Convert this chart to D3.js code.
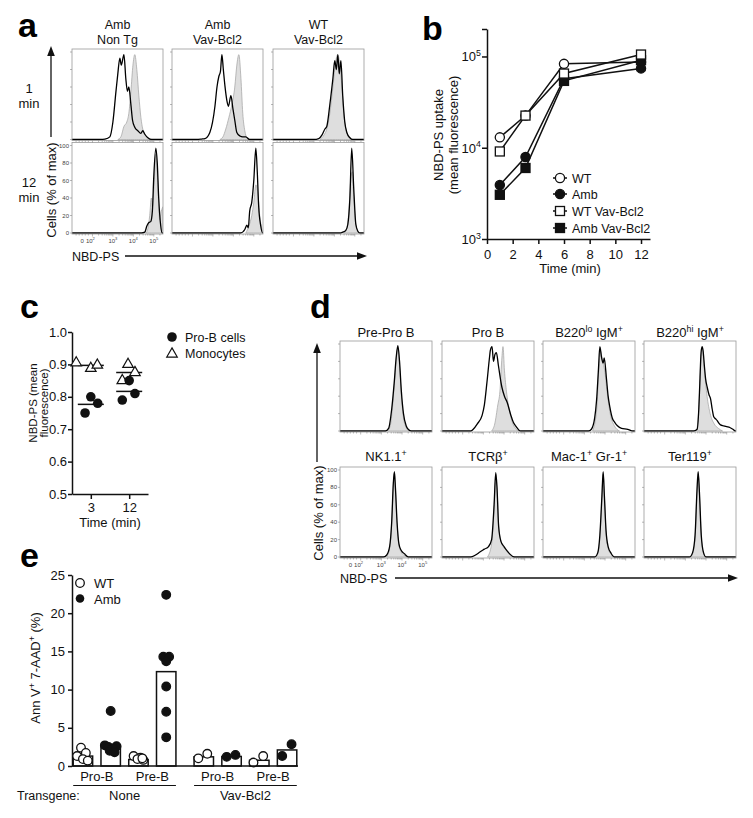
<!DOCTYPE html>
<html><head><meta charset="utf-8">
<script src="https://cdn.jsdelivr.net/npm/d3@7/dist/d3.min.js"></script>
<style>html,body{margin:0;padding:0;background:#fff;} svg{display:block;font-family:"Liberation Sans",Arial,Helvetica,sans-serif;}</style>
</head><body>
<svg id="fig" width="753" height="818"></svg>
<script>
// ================= DATA =================
// --- panel a: histograms, points are [decade position on NBD-PS axis, % of max]
const aColTitles = [["Amb","Non Tg"],["Amb","Vav-Bcl2"],["WT","Vav-Bcl2"]];
const aRowLabels = [["1","min"],["12","min"]];
const aLine1min = [
 [[2.4,0],[2.61,0.5],[2.85,3],[3.0,20],[3.15,55],[3.24,75],[3.34,93],[3.41,85],[3.54,97],[3.63,70],[3.71,55],[3.78,60],[3.88,40],[3.96,22],[4.07,14],[4.22,10],[4.37,7],[4.46,10],[4.56,6],[4.71,2],[4.9,0]],
 [[2.2,0],[2.45,0.5],[2.61,1],[2.85,8],[3.1,38],[3.2,60],[3.29,72],[3.37,78],[3.44,97],[3.51,80],[3.59,61],[3.68,45],[3.76,38],[3.88,50],[3.98,35],[4.07,22],[4.17,8],[4.32,4],[4.46,3],[4.61,3],[4.8,0]],
 [[3.0,0],[3.24,1],[3.39,5],[3.54,12],[3.63,15],[3.78,40],[3.93,70],[4.02,90],[4.1,80],[4.17,97],[4.24,75],[4.32,90],[4.41,50],[4.51,20],[4.61,8],[4.76,2],[4.9,0]]
];
const aFill1min = [
 [[3.24,0],[3.39,3],[3.54,15],[3.68,20],[3.78,30],[3.88,55],[3.98,85],[4.07,97],[4.17,80],[4.27,50],[4.37,25],[4.46,12],[4.61,5],[4.8,0]],
 [[3.34,0],[3.49,3],[3.63,12],[3.78,25],[3.93,40],[4.07,60],[4.17,85],[4.27,97],[4.37,70],[4.46,30],[4.56,10],[4.66,2],[4.76,0]],
 [[3.29,0],[3.49,5],[3.63,12],[3.78,30],[3.93,60],[4.07,90],[4.17,97],[4.27,85],[4.37,60],[4.46,30],[4.56,12],[4.71,3],[4.85,0]]
];
const aLine12min = [
 [[4.4,0],[4.56,1],[4.66,8],[4.76,12],[4.85,13],[4.93,25],[5.0,65],[5.1,97],[5.17,80],[5.24,40],[5.34,8],[5.41,0]],
 [[4.35,0],[4.56,4],[4.66,9],[4.73,6],[4.8,25],[4.9,35],[5.0,60],[5.1,97],[5.17,70],[5.24,30],[5.34,8],[5.44,0]],
 [[4.3,0],[4.41,1],[4.56,3],[4.66,10],[4.76,40],[4.85,97],[4.95,50],[5.05,10],[5.15,2],[5.24,0]]
];
const aFill12min = [
 [[4.61,0],[4.71,5],[4.8,20],[4.88,40],[4.93,30],[5.0,50],[5.1,90],[5.2,55],[5.29,15],[5.37,25],[5.45,30]],
 [[4.61,0],[4.76,8],[4.9,20],[5.0,35],[5.1,55],[5.2,45],[5.29,20],[5.39,5],[5.44,0]],
 [[4.46,0],[4.61,5],[4.71,25],[4.8,60],[4.88,70],[4.95,40],[5.05,10],[5.2,0]]
];
const histTickPos = [1.5, 1.9, 3, 4, 5];
const histTickBase = ["0","10","10","10","10"];
const histTickExp = ["","2","3","4","5"];
const histYTicks = [0,20,40,60,80,100];

// --- panel b
const bTimes = [1,3,6,12];
const bSeries = ["WT","Amb","WT Vav-Bcl2","Amb Vav-Bcl2"];
const bWT = [13000, 22500, 83000, 87000];
const bAmb = [3900, 7900, 57000, 74000];
const bWTBcl2 = [9100, 22500, 65000, 105000];
const bAmbBcl2 = [3050, 6000, 54000, 91000];
const bXTicks = [0,2,4,6,8,10,12];
const bYTicks = [1e3,1e4,1e5];
const bYExp = ["3","4","5"];

// --- panel c
const cTimes = ["3","12"];
const cProB = [[0.75,0.80,0.78],[0.79,0.85,0.81]];
const cMono = [[0.905,0.888,0.898],[0.85,0.90,0.875]];
const cProBJitter = [[-0.15,0,0.18],[-0.18,0,0.15]];
const cMonoJitter = [[-0.38,0,0.17],[-0.18,-0.03,0.15]];
const cYTicks = [0.5,0.6,0.7,0.8,0.9,1.0];

// --- panel d
const dTitles = [
 [["Pre-Pro B",0]], [["Pro B",0]], [["B220",0],["lo",1],[" IgM",0],["+",1]], [["B220",0],["hi",1],[" IgM",0],["+",1]],
 [["NK1.1",0],["+",1]], [["TCRβ",0],["+",1]], [["Mac-1",0],["+",1],[" Gr-1",0],["+",1]], [["Ter119",0],["+",1]]
];
const dLine = [
 [[3.2,0],[3.35,3],[3.5,25],[3.62,55],[3.72,85],[3.8,98],[3.88,80],[3.97,45],[4.07,20],[4.2,6],[4.3,2],[4.45,0]],
 [[2.4,0],[2.51,2],[2.7,8],[2.94,18],[3.05,30],[3.17,55],[3.3,85],[3.34,93],[3.42,97],[3.49,80],[3.56,88],[3.63,90],[3.73,75],[3.9,50],[4.02,40],[4.15,33],[4.32,19],[4.45,10],[4.56,6],[4.8,0]],
 [[3.2,0],[3.34,2],[3.5,15],[3.59,35],[3.68,70],[3.75,97],[3.83,85],[3.91,78],[3.96,84],[4.07,60],[4.15,40],[4.23,28],[4.35,15],[4.47,10],[4.6,6],[4.8,3],[5.1,2],[5.35,0]],
 [[3.4,0],[3.57,2],[3.65,25],[3.7,55],[3.76,90],[3.81,97],[3.86,92],[3.92,75],[3.98,60],[4.06,50],[4.14,42],[4.22,37],[4.3,25],[4.38,16],[4.46,14],[4.54,12],[4.62,9],[4.7,7],[4.85,6],[5.0,5],[5.15,4],[5.3,2],[5.42,0]],
 [[3.1,0],[3.25,2],[3.4,12],[3.5,40],[3.58,85],[3.63,98],[3.68,80],[3.76,40],[3.85,15],[3.95,8],[4.05,5],[4.15,3],[4.3,0]],
 [[2.4,0],[2.6,2],[2.85,6],[3.05,9],[3.25,12],[3.4,20],[3.52,60],[3.6,97],[3.66,80],[3.74,35],[3.85,18],[4.0,12],[4.15,7],[4.3,3],[4.5,0]],
 [[3.5,0],[3.65,5],[3.75,25],[3.85,70],[3.91,98],[3.97,70],[4.05,30],[4.15,12],[4.3,4],[4.45,0]],
 [[3.2,0],[3.35,5],[3.47,25],[3.56,75],[3.62,98],[3.68,75],[3.77,25],[3.88,5],[4.0,0]]
];
const dFill = [
 [[3.3,0],[3.45,8],[3.55,30],[3.65,60],[3.75,90],[3.8,95],[3.88,75],[3.97,40],[4.07,15],[4.2,4],[4.35,0]],
 [[3.4,0],[3.55,8],[3.7,30],[3.8,45],[3.9,85],[3.95,97],[4.02,70],[4.12,45],[4.25,25],[4.4,10],[4.55,3],[4.7,0]],
 [[3.4,0],[3.6,25],[3.7,70],[3.78,92],[3.88,80],[3.98,70],[4.1,45],[4.25,20],[4.45,6],[4.7,0]],
 [[3.55,0],[3.65,25],[3.75,80],[3.82,95],[3.92,70],[4.05,40],[4.2,20],[4.4,8],[4.6,3],[4.8,0]],
 [[3.25,0],[3.4,10],[3.5,38],[3.58,83],[3.63,96],[3.68,78],[3.76,38],[3.85,14],[3.95,6],[4.1,2],[4.25,0]],
 [[3.2,0],[3.4,15],[3.52,55],[3.6,95],[3.66,78],[3.75,33],[3.9,15],[4.1,8],[4.3,2],[4.5,0]],
 [[3.55,0],[3.67,5],[3.76,25],[3.85,68],[3.91,96],[3.97,68],[4.05,28],[4.15,10],[4.3,3],[4.45,0]],
 [[3.25,0],[3.37,5],[3.48,25],[3.56,73],[3.62,96],[3.68,73],[3.77,23],[3.88,4],[4.0,0]]
];

// --- panel e
const eGroups = ["None","Vav-Bcl2"];
const eSubs = ["WT Pro-B","Amb Pro-B","WT Pre-B","Amb Pre-B"];
const eGenotype = ["WT","Amb","WT","Amb"];
const eCellLabels = ["Pro-B","Pre-B"];
const eMeans = [[1.3,2.6,0.85,12.35],[1.2,1.25,0.75,2.1]];
const ePoints = [
 [[2.4,1.7,1.3,0.9,0.7],[7.2,2.7,2.6,2.5,2.3,2.0,1.8],[1.3,1.1,0.9,0.8,1.0],[22.4,14.3,14.3,13.7,10.4,7.1,3.75]],
 [[1.0,1.6],[1.2,1.45],[0.45,1.3],[1.3,2.85]]
];
const eJitter = [
 [[-0.1,0.15,-0.3,0.0,0.25],[0,-0.3,0.3,-0.12,0.12,-0.05,0.2],[-0.25,0.1,-0.05,0.25,0.2],[0,-0.15,0.15,0,0,0,0]],
 [[-0.28,0.18],[-0.25,0.2],[-0.3,0.2],[-0.25,0.23]]
];
const eYTicks = [0,5,10,15,20,25];

// ================= DRAWING =================
const svg = d3.select("#fig");
let clipN = 0;

function rich(t, parts, fs) {
  let raised = false;
  parts.forEach(([s, sup]) => {
    const ts = t.append("tspan").text(s);
    if (sup) {
      ts.attr("font-size", fs * 0.68);
      if (!raised) { ts.attr("dy", -fs * 0.42); raised = true; }
    } else if (raised) { ts.attr("dy", fs * 0.42); raised = false; }
  });
  return t;
}
function txt(x, y, s, fs, anchor) {
  return svg.append("text").attr("x", x).attr("y", y).attr("font-size", fs)
    .attr("text-anchor", anchor || "start").attr("fill", "#111").text(s);
}
function arrow(x1, y1, x2, y2) {
  const ang = Math.atan2(y2 - y1, x2 - x1), L = 10, W = 3.8;
  const bx = x2 - L * Math.cos(ang), by = y2 - L * Math.sin(ang);
  svg.append("line").attr("x1", x1).attr("y1", y1).attr("x2", bx).attr("y2", by)
    .attr("stroke", "#111").attr("stroke-width", 1.3);
  const px = -Math.sin(ang) * W, py = Math.cos(ang) * W;
  svg.append("path").attr("d", `M${x2},${y2}L${bx + px},${by + py}L${bx - px},${by - py}Z`).attr("fill", "#111");
}
function panelLetter(x, y, s) {
  svg.append("text").attr("x", x).attr("y", y).attr("font-size", 34).attr("font-weight", "bold").attr("fill", "#000").text(s);
}

const HX = [1, 5.45];
const histMinor = [];
[1.2,1.35,1.5,1.65,1.8].forEach(v => histMinor.push(v));
for (let k = 2; k <= 5; k++) for (let m = 1; m <= 9; m++) { const u = k + Math.log10(m); if (u <= HX[1]) histMinor.push(u); }

function drawHist(x0, y0, w, h, linePts, fillPts, labels) {
  const x = d3.scaleLinear().domain(HX).range([x0, x0 + w]);
  const y = d3.scaleLinear().domain([0, 100]).range([y0 + h - 1, y0 + 3]);
  const id = "clip" + (clipN++);
  svg.append("clipPath").attr("id", id).append("rect").attr("x", x0).attr("y", y0).attr("width", w).attr("height", h);
  const g = svg.append("g").attr("clip-path", `url(#${id})`);
  g.append("path").datum(fillPts)
    .attr("d", d3.area().x(d => x(d[0])).y0(y(0)).y1(d => y(d[1])).curve(d3.curveMonotoneX))
    .attr("fill", "#dedede").attr("stroke", "#a9a9a9").attr("stroke-width", 0.8);
  const full = [[HX[0], 0]].concat(linePts, [[HX[1], 0]]);
  g.append("path").datum(full)
    .attr("d", d3.line().x(d => x(d[0])).y(d => y(d[1])).curve(d3.curveMonotoneX))
    .attr("fill", "none").attr("stroke", "#000").attr("stroke-width", 1.3);
  svg.append("rect").attr("x", x0).attr("y", y0).attr("width", w).attr("height", h)
    .attr("fill", "none").attr("stroke", "#9a9a9a").attr("stroke-width", 0.8);
  svg.append("g").selectAll("line").data(histYTicks).join("line")
    .attr("x1", x0 - 2).attr("x2", x0).attr("y1", d => y(d)).attr("y2", d => y(d))
    .attr("stroke", "#888").attr("stroke-width", 0.6);
  svg.append("g").selectAll("line").data(histMinor).join("line")
    .attr("x1", d => x(d)).attr("x2", d => x(d)).attr("y1", y0 + h).attr("y2", d => y0 + h + (Number.isInteger(d) ? 2.5 : 1.5))
    .attr("stroke", "#888").attr("stroke-width", 0.6);
  if (labels) {
    histYTicks.forEach(v => txt(x0 - 3, y(v) + 2, String(v), 6, "end").attr("fill", "#444"));
    histTickPos.forEach((p, i) => {
      const t = svg.append("text").attr("x", x(p)).attr("y", y0 + h + 9).attr("font-size", 6).attr("text-anchor", "middle").attr("fill", "#444");
      rich(t, histTickExp[i] ? [[histTickBase[i], 0], [histTickExp[i], 1]] : [[histTickBase[i], 0]], 6);
    });
  }
}

// ---------- Panel a ----------
panelLetter(18, 37, "a");
const aLeft = [72, 172, 273], aW = 91, aTop = [49, 142.5], aH = 91.5;
aColTitles.forEach((c, i) => {
  txt(aLeft[i] + aW / 2, 29, c[0], 12.5, "middle");
  txt(aLeft[i] + aW / 2, 44, c[1], 12.5, "middle");
});
aRowLabels.forEach((r, j) => {
  txt(29, aTop[j] + 44, r[0], 13, "middle");
  txt(29, aTop[j] + 59, r[1], 13, "middle");
});
for (let c = 0; c < 3; c++) {
  drawHist(aLeft[c], aTop[0], aW, aH, aLine1min[c], aFill1min[c], false);
  drawHist(aLeft[c], aTop[1], aW, aH, aLine12min[c], aFill12min[c], c === 0);
}
arrow(51, 137, 51, 46);
svg.append("text").attr("transform", "translate(55.5,190) rotate(-90)").attr("text-anchor", "middle")
  .attr("font-size", 13).attr("fill", "#111").text("Cells (% of max)");
txt(72, 261, "NBD-PS", 12.5, "start");
arrow(125, 256, 367, 256);

// ---------- Panel b ----------
panelLetter(422, 40, "b");
const bx = d3.scaleLinear().domain([0, 12.7]).range([487, 650]);
const by = d3.scaleLog().domain([1e3, 2e5]).range([239, 29]);
const bAxY = svg.append("g").attr("transform", "translate(487,0)")
  .call(d3.axisLeft(by).tickValues(bYTicks.concat([2e5])).tickFormat(() => "").tickSize(5).tickSizeOuter(0));
const bAxX = svg.append("g").attr("transform", "translate(0,239)")
  .call(d3.axisBottom(bx).tickValues(bXTicks).tickSize(5).tickSizeOuter(0));
[bAxY, bAxX].forEach(a => {
  a.selectAll("path,line").attr("stroke", "#111").attr("stroke-width", 1.5);
  a.selectAll("text").attr("font-size", 13).attr("font-family", '"Liberation Sans",Arial,sans-serif').attr("fill", "#111");
});
bAxX.selectAll("text").attr("dy", "0.9em");
bYTicks.forEach((v, i) => {
  const t = svg.append("text").attr("x", 481).attr("y", by(v) + 5).attr("font-size", 13).attr("text-anchor", "end").attr("fill", "#111");
  rich(t, [["10", 0], [bYExp[i], 1]], 13);
});
svg.append("text").attr("transform", "translate(443,135) rotate(-90)").attr("text-anchor", "middle").attr("font-size", 13).attr("fill", "#111").text("NBD-PS uptake");
svg.append("text").attr("transform", "translate(458,135) rotate(-90)").attr("text-anchor", "middle").attr("font-size", 13).attr("fill", "#111").text("(mean fluorescence)");
txt(570, 273, "Time (min)", 13, "middle");

const bData = [bWT, bAmb, bWTBcl2, bAmbBcl2];
const bShape = ["circle", "circle", "square", "square"];
const bFilled = [false, true, false, true];
const bLine = d3.line().x((d, i) => bx(bTimes[i])).y(d => by(d));
bData.forEach(s => svg.append("path").datum(s).attr("d", bLine).attr("fill", "none").attr("stroke", "#111").attr("stroke-width", 1.5));
function bMarker(g, cx, cy, k) {
  if (bShape[k] === "circle") {
    g.append("circle").attr("cx", cx).attr("cy", cy).attr("r", 4.6)
      .attr("fill", bFilled[k] ? "#111" : "#fff").attr("stroke", "#111").attr("stroke-width", 1.3);
  } else {
    g.append("rect").attr("x", cx - 4.5).attr("y", cy - 4.5).attr("width", 9).attr("height", 9)
      .attr("fill", bFilled[k] ? "#111" : "#fff").attr("stroke", "#111").attr("stroke-width", 1.3);
  }
}
[0, 1, 3, 2].forEach(k => bData[k].forEach((v, i) => bMarker(svg, bx(bTimes[i]), by(v), k)));
const bLegY = [178, 194, 211, 228];
bSeries.forEach((s, k) => {
  svg.append("line").attr("x1", 553).attr("x2", 567).attr("y1", bLegY[k]).attr("y2", bLegY[k]).attr("stroke", "#111").attr("stroke-width", 1.5);
  bMarker(svg, 560, bLegY[k], k);
  txt(572, bLegY[k] + 4.5, s, 12.5, "start");
});

// ---------- Panel c ----------
panelLetter(20, 318, "c");
const cx = d3.scalePoint().domain(cTimes).range([72, 148]).padding(0.49);
const cy = d3.scaleLinear().domain([0.5, 1.0]).range([494, 332]);
const cStep = cx.step();
const cAxY = svg.append("g").attr("transform", "translate(72,0)")
  .call(d3.axisLeft(cy).tickValues(cYTicks).tickFormat(d3.format(".1f")).tickSize(4).tickSizeOuter(0));
const cAxX = svg.append("g").attr("transform", "translate(0,494)")
  .call(d3.axisBottom(cx).tickSize(5).tickSizeOuter(0));
[cAxY, cAxX].forEach(a => {
  a.selectAll("path,line").attr("stroke", "#111").attr("stroke-width", 1.5);
  a.selectAll("text").attr("font-size", 13).attr("font-family", '"Liberation Sans",Arial,sans-serif').attr("fill", "#111");
});
cAxY.selectAll("text").attr("x", -5);
cAxX.selectAll("text").attr("dy", "0.75em");
txt(110, 527, "Time (min)", 13, "middle");
svg.append("text").attr("transform", "translate(37,403) rotate(-90)").attr("text-anchor", "middle").attr("font-size", 11.5).attr("fill", "#111").text("NBD-PS (mean");
svg.append("text").attr("transform", "translate(48,403) rotate(-90)").attr("text-anchor", "middle").attr("font-size", 11.5).attr("fill", "#111").text("fluorescence)");
const triSym = d3.symbol(d3.symbolTriangle).size(48);
cTimes.forEach((t, i) => {
  const c0 = cx(t);
  [cMono[i], cProB[i]].forEach(arr => {
    const m = d3.mean(arr);
    svg.append("line").attr("x1", c0 - 13).attr("x2", c0 + 13).attr("y1", cy(m)).attr("y2", cy(m)).attr("stroke", "#111").attr("stroke-width", 1.5);
  });
  cMono[i].forEach((v, j) => svg.append("path").attr("d", triSym)
    .attr("transform", `translate(${c0 + cMonoJitter[i][j] * cStep},${cy(v)})`)
    .attr("fill", "#fff").attr("stroke", "#111").attr("stroke-width", 1.2));
  cProB[i].forEach((v, j) => svg.append("circle").attr("cx", c0 + cProBJitter[i][j] * cStep).attr("cy", cy(v)).attr("r", 4.8).attr("fill", "#111"));
});
svg.append("circle").attr("cx", 172).attr("cy", 337).attr("r", 4.8).attr("fill", "#111");
txt(185, 341.5, "Pro-B cells", 12.5, "start");
svg.append("path").attr("d", triSym).attr("transform", "translate(172,354)").attr("fill", "#fff").attr("stroke", "#111").attr("stroke-width", 1.2);
txt(185, 358, "Monocytes", 12.5, "start");

// ---------- Panel d ----------
panelLetter(310, 318, "d");
const dLeft = [340, 442, 543, 644], dW = 92, dTop = [341, 467], dH = 91;
dTitles.forEach((parts, k) => {
  const r = Math.floor(k / 4), c = k % 4;
  const t = svg.append("text").attr("x", dLeft[c] + dW / 2).attr("y", r === 0 ? 337 : 461)
    .attr("font-size", 13).attr("text-anchor", "middle").attr("fill", "#111");
  rich(t, parts.map(p => [p[0], p[1]]), 13);
  drawHist(dLeft[c], dTop[r], dW, dH, dLine[k], dFill[k], r === 1 && c === 0);
});
arrow(317, 462, 317, 343);
svg.append("text").attr("transform", "translate(322.5,513) rotate(-90)").attr("text-anchor", "middle")
  .attr("font-size", 13).attr("fill", "#111").text("Cells (% of max)");
txt(340, 583, "NBD-PS", 12.5, "start");
arrow(395, 578, 738, 578);

// ---------- Panel e ----------
panelLetter(20, 567, "e");
const eOuter = d3.scaleBand().domain(eGroups).range([72, 298]).paddingInner(0.15).paddingOuter(0.01);
const eInner = d3.scaleBand().domain(eSubs).range([0, eOuter.bandwidth()]).paddingInner(0.3).paddingOuter(0);
const ey = d3.scaleLinear().domain([0, 25]).range([766, 575]);
const eAxY = svg.append("g").attr("transform", "translate(72,0)")
  .call(d3.axisLeft(ey).tickValues(eYTicks).tickSize(4).tickSizeOuter(0));
eAxY.selectAll("path,line").attr("stroke", "#111").attr("stroke-width", 1.5);
eAxY.selectAll("text").attr("font-size", 13).attr("font-family", '"Liberation Sans",Arial,sans-serif').attr("fill", "#111");
const bw = eInner.bandwidth();
eGroups.forEach((gname, gi) => {
  const gx = eOuter(gname);
  eSubs.forEach((s, si) => {
    const x0 = gx + eInner(s);
    svg.append("rect").attr("x", x0).attr("y", ey(eMeans[gi][si])).attr("width", bw).attr("height", ey(0) - ey(eMeans[gi][si]))
      .attr("fill", "#fff").attr("stroke", "#111").attr("stroke-width", 1.5);
  });
  eSubs.forEach((s, si) => {
    const xc = gx + eInner(s) + bw / 2;
    ePoints[gi][si].forEach((v, j) => {
      svg.append("circle").attr("cx", xc + eJitter[gi][si][j] * bw).attr("cy", ey(v)).attr("r", 4.3)
        .attr("fill", eGenotype[si] === "WT" ? "#fff" : "#111").attr("stroke", "#111").attr("stroke-width", 1.3);
    });
  });
  eCellLabels.forEach((lab, li) => {
    const a = gx + eInner(eSubs[li * 2]) + bw / 2, b = gx + eInner(eSubs[li * 2 + 1]) + bw / 2;
    txt((a + b) / 2, 781, lab, 13, "middle");
  });
  svg.append("line").attr("x1", gx).attr("x2", gx + eOuter.bandwidth()).attr("y1", 785.5).attr("y2", 785.5).attr("stroke", "#111").attr("stroke-width", 1);
  txt(gx + eOuter.bandwidth() / 2, 800, gname, 13, "middle");
});
svg.append("line").attr("x1", 72).attr("x2", 298).attr("y1", 766).attr("y2", 766).attr("stroke", "#111").attr("stroke-width", 1.5);
txt(17, 800, "Transgene:", 12.5, "start");
const eyl = svg.append("text").attr("transform", "translate(40,668) rotate(-90)").attr("text-anchor", "middle").attr("font-size", 13).attr("fill", "#111");
rich(eyl, [["Ann V", 0], ["+", 1], [" 7-AAD", 0], ["+", 1], [" (%)", 0]], 13);
svg.append("circle").attr("cx", 80).attr("cy", 583).attr("r", 4.3).attr("fill", "#fff").attr("stroke", "#111").attr("stroke-width", 1.3);
txt(94, 588, "WT", 13, "start");
svg.append("circle").attr("cx", 80).attr("cy", 598.5).attr("r", 4.3).attr("fill", "#111");
txt(94, 603.5, "Amb", 13, "start");
</script></body></html>
